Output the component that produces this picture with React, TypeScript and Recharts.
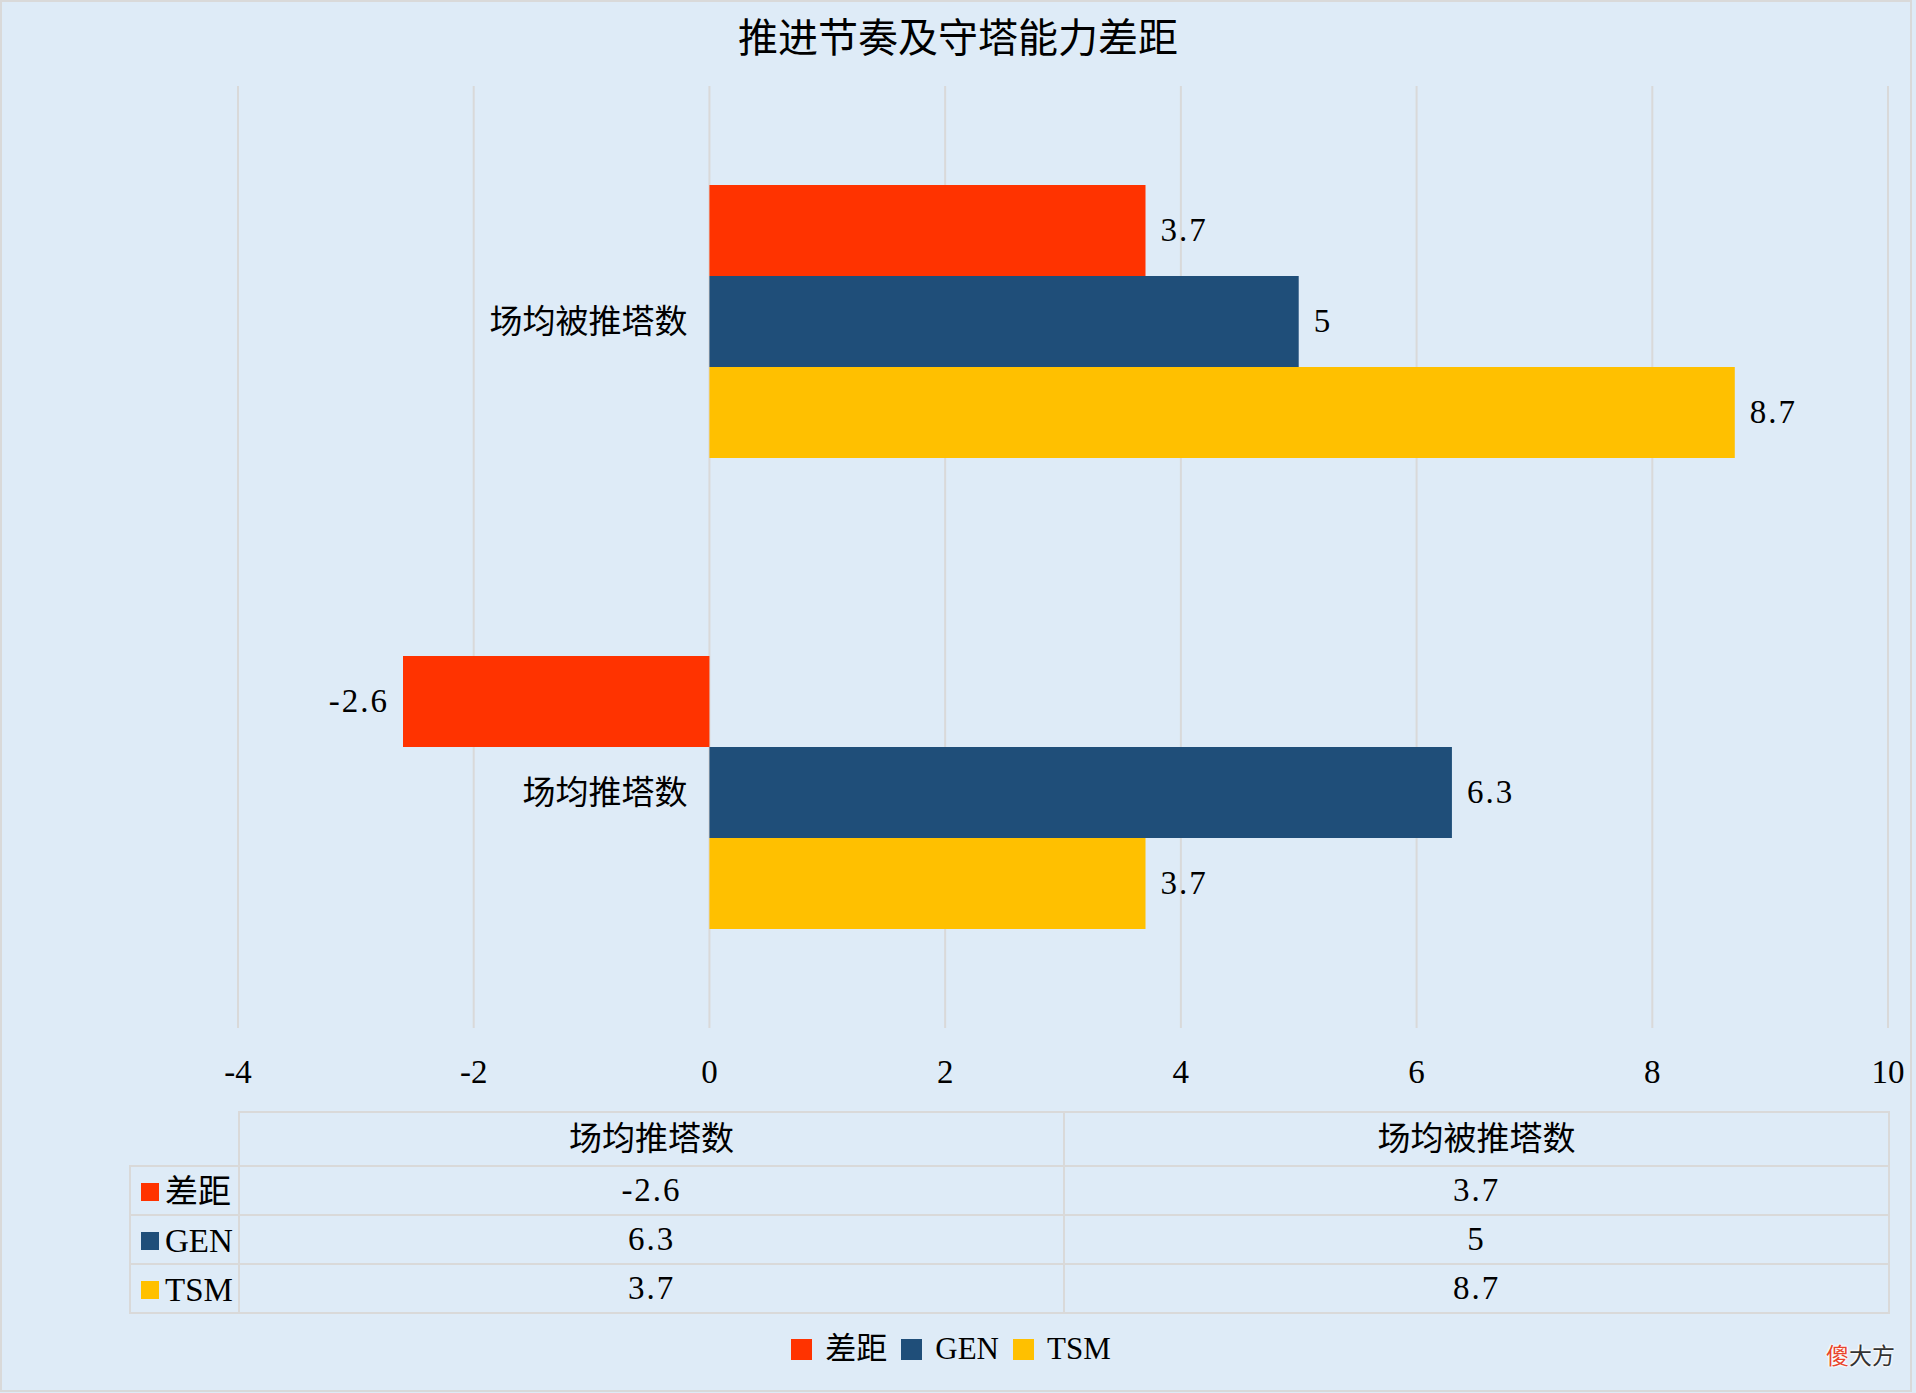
import React from "react";
import { BarChart, Bar, XAxis, YAxis, CartesianGrid, LabelList, Legend } from "recharts";

// ---- data ----
const categories = ["场均推塔数", "场均被推塔数"]; // table / Excel order
const seriesNames = ["差距", "GEN", "TSM"];
const seriesKeys = ["gap", "gen", "tsm"];
const seriesColors = ["#FF3300", "#1F4E79", "#FFC000"];
const gapValues = [-2.6, 3.7];
const genValues = [6.3, 5];
const tsmValues = [3.7, 8.7];
const xTicks = [-4, -2, 0, 2, 4, 6, 8, 10];
const xDomain: [number, number] = [-4, 10];
const title = "推进节奏及守塔能力差距";

const seriesValues = [gapValues, genValues, tsmValues];

// chart rows (Excel draws first category at the bottom)
const chartData = categories
  .map((name, i) => ({ name, gap: gapValues[i], gen: genValues[i], tsm: tsmValues[i] }))
  .reverse();

// ---- layout ----
const W = 1916;
const H = 1393;
const PLOT_LEFT = 238;
const PLOT_RIGHT = 1888;
const PLOT_TOP = 86;
const PLOT_BOTTOM = 1028;
const XAXIS_H = 60;
const ZERO_X = PLOT_LEFT + ((0 - xDomain[0]) / (xDomain[1] - xDomain[0])) * (PLOT_RIGHT - PLOT_LEFT);

const FONT = "'Liberation Serif', 'Noto Sans CJK SC', serif";
const GRID = "#D9D9D9";
const BG = "#DEEBF7";

const fmt = (v: number) => String(v);

const XTick = (props: any) => {
  const { x, y, payload } = props;
  return (
    <text x={x} y={y} dy={44} textAnchor="middle" dominantBaseline="central" fontSize={33} fontFamily={FONT} fill="#000">
      {fmt(payload.value)}
    </text>
  );
};

const YTick = (props: any) => {
  const { y, payload } = props;
  return (
    <text x={ZERO_X - 22} y={y} textAnchor="end" dominantBaseline="central" fontSize={33} fontFamily={FONT} fill="#000">
      {payload.value}
    </text>
  );
};

const BarLabel = (props: any) => {
  const vb = props.viewBox || {};
  const x = props.x ?? vb.x;
  const y = props.y ?? vb.y;
  const width = props.width ?? vb.width;
  const height = props.height ?? vb.height;
  const value = Number(props.value);
  const x0 = Math.min(x, x + width);
  const x1 = Math.max(x, x + width);
  const neg = value < 0;
  return (
    <text
      x={neg ? x0 - 14 : x1 + 15}
      y={y + height / 2}
      textAnchor={neg ? "end" : "start"}
      dominantBaseline="central"
      fontSize={33}
      fontFamily={FONT}
      fill="#000"
      letterSpacing={2}
    >
      {fmt(value)}
    </text>
  );
};

const LegendContent = (props: any) => {
  const payload = [...(props.payload || [])].sort(
    (a: any, b: any) => seriesNames.indexOf(a.value) - seriesNames.indexOf(b.value)
  );
  return (
    <div style={{ display: "flex", justifyContent: "center", alignItems: "center", height: 38 }}>
      {payload.map((p: any, i: number) => (
        <div key={i} style={{ display: "flex", alignItems: "center", marginRight: 14 }}>
          <span style={{ display: "inline-block", width: 21, height: 21, background: p.color, marginRight: 13 }} />
          <span style={{ fontFamily: FONT, fontSize: 31, lineHeight: "38px", color: "#000" }}>{p.value}</span>
        </div>
      ))}
    </div>
  );
};

const cellBorder = `2px solid ${GRID}`;

export default function App() {
  return (
    <div style={{ position: "relative", width: W, height: H, background: BG, overflow: "hidden" }}>
      <style>{"body{margin:0}"}</style>
      <BarChart
        width={W}
        height={H}
        layout="vertical"
        data={chartData}
        margin={{ top: PLOT_TOP, right: W - PLOT_RIGHT, left: 0, bottom: H - PLOT_BOTTOM - XAXIS_H }}
        barCategoryGap="21%"
        barGap={0}
      >
        <CartesianGrid horizontal={false} vertical={true} stroke={GRID} strokeWidth={2} />
        <XAxis
          type="number"
          domain={xDomain}
          ticks={xTicks}
          interval={0}
          height={XAXIS_H}
          axisLine={false}
          tickLine={false}
          tickSize={0}
          tickMargin={0}
          tick={<XTick />}
        />
        <YAxis
          type="category"
          dataKey="name"
          width={PLOT_LEFT}
          axisLine={false}
          tickLine={false}
          tick={<YTick />}
        />
        {seriesKeys.map((k, i) => (
          <Bar key={k} dataKey={k} name={seriesNames[i]} fill={seriesColors[i]} isAnimationActive={false}>
            <LabelList dataKey={k} content={<BarLabel />} />
          </Bar>
        ))}
        <Legend
          layout="horizontal"
          verticalAlign="middle"
          align="center"
          itemSorter={(item: any) => seriesNames.indexOf(item.value)}
          content={<LegendContent />}
          wrapperStyle={{ position: "absolute", left: 0, top: 1330, width: W }}
        />
      </BarChart>

      {/* title */}
      <div
        style={{
          position: "absolute",
          left: 0,
          top: 0,
          width: W,
          height: 78,
          lineHeight: "78px",
          textAlign: "center",
          fontFamily: FONT,
          fontSize: 40,
          color: "#000",
        }}
      >
        {title}
      </div>

      {/* data table */}
      <table
        style={{
          position: "absolute",
          left: 129,
          top: 1111,
          borderCollapse: "collapse",
          tableLayout: "fixed",
          width: PLOT_RIGHT - 129,
          fontFamily: FONT,
          fontSize: 33,
          color: "#000",
        }}
      >
        <colgroup>
          <col style={{ width: PLOT_LEFT - 129 }} />
          {categories.map((c) => (
            <col key={c} style={{ width: (PLOT_RIGHT - PLOT_LEFT) / categories.length }} />
          ))}
        </colgroup>
        <tbody>
          <tr style={{ height: 54 }}>
            <td style={{ border: "none", padding: 0 }} />
            {categories.map((c) => (
              <td key={c} style={{ border: cellBorder, padding: 0, textAlign: "center", verticalAlign: "middle", lineHeight: 1 }}>
                {c}
              </td>
            ))}
          </tr>
          {seriesNames.map((s, si) => (
            <tr key={s} style={{ height: 49 }}>
              <td style={{ border: cellBorder, padding: 0, paddingLeft: 10, verticalAlign: "middle", lineHeight: 1, whiteSpace: "nowrap" }}>
                <span style={{ display: "inline-block", width: 18, height: 18, background: seriesColors[si], marginRight: 6, verticalAlign: "middle" }} />
                <span style={{ verticalAlign: "middle" }}>{s}</span>
              </td>
              {categories.map((c, ci) => (
                <td key={c} style={{ border: cellBorder, padding: 0, textAlign: "center", verticalAlign: "middle", lineHeight: 1, letterSpacing: 2 }}>
                  {fmt(seriesValues[si][ci])}
                </td>
              ))}
            </tr>
          ))}
        </tbody>
      </table>

      {/* watermark */}
      <div
        style={{
          position: "absolute",
          left: 1826,
          top: 1338,
          fontFamily: "'Noto Sans CJK SC', sans-serif",
          fontSize: 23,
          lineHeight: "32px",
          textShadow: "0 0 2px #fff, 0 0 2px #fff, 0 0 3px #fff, 0 0 3px #fff",
        }}
      >
        <span style={{ color: "#E8452C" }}>傻</span>
        <span style={{ color: "#333" }}>大方</span>
      </div>

      {/* outer border */}
      <div
        style={{
          position: "absolute",
          left: 0,
          top: 0,
          width: W - 4,
          height: H - 1,
          boxSizing: "border-box",
          border: `2px solid ${GRID}`,
          pointerEvents: "none",
        }}
      />
    </div>
  );
}
